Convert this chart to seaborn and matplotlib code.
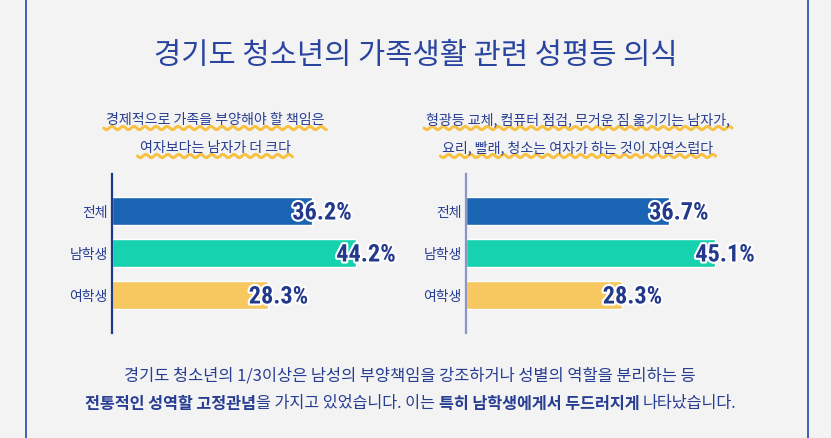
import numpy as np
import matplotlib
matplotlib.use("Agg")
import matplotlib.pyplot as plt
import matplotlib.patheffects as pe
from matplotlib import font_manager
import seaborn as sns

# 데이터
categories = ["전체", "남학생", "여학생"]
left_values = [36.2, 44.2, 28.3]
right_values = [36.7, 45.1, 28.3]
bar_colors = ["#1a64b4", "#17d2ae", "#f6c85f"]

title = "경기도 청소년의 가족생활 관련 성평등 의식"
left_question = ["경제적으로 가족을 부양해야 할 책임은", "여자보다는 남자가 더 크다"]
right_question = ["형광등 교체, 컴퓨터 점검, 무거운 짐 옮기기는 남자가,",
                  "요리, 빨래, 청소는 여자가 하는 것이 자연스럽다"]
summary_line1 = "경기도 청소년의 1/3이상은 남성의 부양책임을 강조하거나 성별의 역할을 분리하는 등"
# (텍스트, 굵기, 앞에 공백)
summary_line2 = [("전통적인 성역할 고정관념", "bold", False),
                 ("을 가지고 있었습니다. 이는", "normal", False),
                 ("특히 남학생에게서 두드러지게", "bold", True),
                 ("나타났습니다.", "normal", True)]

NAVY = "#273d92"
BG = "#f3f3f3"
W, H = 831, 439

sns.set_theme(style="white")
plt.rcParams["font.family"] = ["Noto Sans CJK KR", "DejaVu Sans"]

installed = {f.name for f in font_manager.fontManager.ttflist}
if "Roboto Condensed" in installed:
    num_font, num_size = "Roboto Condensed", 17.5
elif "Roboto" in installed:
    num_font, num_size = "Roboto", 14.5
else:
    num_font, num_size = "DejaVu Sans", 11.5

fig = plt.figure(figsize=(W / 100, H / 100), dpi=100, facecolor=BG)

# 전체 그림 위 텍스트용 축 (픽셀 좌표)
ov = fig.add_axes([0, 0, 1, 1], zorder=0)
ov.set_xlim(0, W)
ov.set_ylim(H, 0)
ov.axis("off")

# 테두리 세로선
for x in (26, 808):
    ov.plot([x, x], [0, H], color="#1f45b5", lw=1.2, zorder=1)

ov.text(416, 56, title, ha="center", va="center", fontsize=21.3,
        color="#2a45a0", weight="medium", zorder=3)

renderer = fig.canvas.get_renderer()


def wavy_underline(t, y):
    bb = t.get_window_extent(renderer)
    x0, x1 = bb.x0 - 2, bb.x1 + 2
    xs = np.linspace(x0, x1, 300)
    ys = y + 1.6 * np.sin(2 * np.pi * (xs - x0) / 11)
    ov.plot(xs, ys, color="#f7c244", lw=2.2, zorder=2, solid_capstyle="round")


def question(lines, cx):
    for y, line in zip((120, 148), lines):
        t = ov.text(cx, y, line, ha="center", va="center", fontsize=10.1,
                    color=NAVY, weight="medium", zorder=3)
        wavy_underline(t, y + 9)


question(left_question, 215)
question(right_question, 578)

ov.text(410, 376, summary_line1, ha="center", va="center", fontsize=11.8,
        color=NAVY, zorder=3)

# 굵은 글씨가 섞인 둘째 줄
fs2 = 11.7
probe_a = ov.text(0, 0, "가 가", fontsize=fs2)
probe_b = ov.text(0, 0, "가가", fontsize=fs2)
space_w = probe_a.get_window_extent(renderer).width - probe_b.get_window_extent(renderer).width
probe_a.remove()
probe_b.remove()

pieces = []
total = 0
for txt, wt, gap in summary_line2:
    t = ov.text(0, 404, txt, ha="left", va="center", fontsize=fs2,
                color=NAVY, weight=wt, zorder=3)
    w = t.get_window_extent(renderer).width
    if gap:
        total += space_w
    pieces.append((t, total))
    total += w
x_start = 411 - total / 2
for t, off in pieces:
    t.set_x(x_start + off)


def bar_panel(left_px, values, spine_color):
    ax = fig.add_axes([left_px / W, (H - 334) / H, 276 / W, 159 / H], zorder=2)
    ax.set_facecolor("none")
    sns.barplot(x=values, y=categories, hue=categories, palette=bar_colors,
                width=0.667, saturation=1, legend=False, ax=ax, orient="h")
    ax.set_xlim(0, 50)
    ax.set_ylim(2.905, -0.881)
    ax.set_xlabel("")
    ax.set_ylabel("")
    ax.set_xticks([])
    for s in ("top", "right", "bottom"):
        ax.spines[s].set_visible(False)
    ax.spines["left"].set_color(spine_color)
    ax.spines["left"].set_linewidth(1.6)
    ax.tick_params(axis="y", length=0, pad=3, labelsize=10, labelcolor=NAVY)
    for i, v in enumerate(values):
        ax.annotate(f"{v:.1f}%", xy=(v, i), xytext=(10, -2),
                    textcoords="offset pixels", ha="center", va="center",
                    fontsize=num_size, family=num_font, weight="bold",
                    color="#23398c",
                    path_effects=[pe.withStroke(linewidth=3, foreground="white")])
    return ax


bar_panel(112, left_values, "#1e3a8a")
bar_panel(466, right_values, "#8896c8")

fig.savefig("out.png", dpi=100, facecolor=BG)
